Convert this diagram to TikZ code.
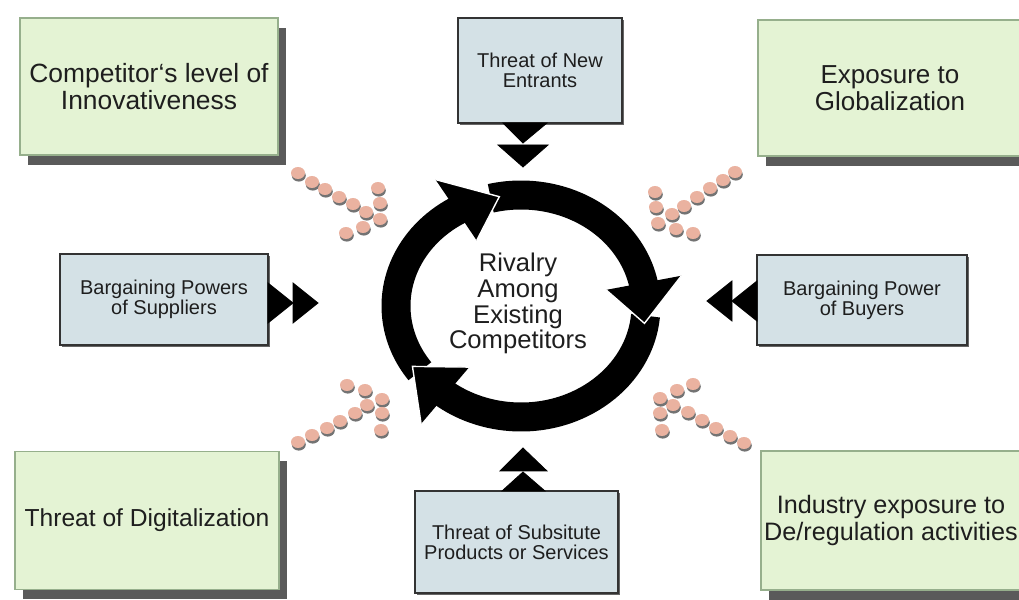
\documentclass[tikz,border=0pt]{standalone}
\usepackage{fontspec}
\setmainfont{Liberation Sans}
\usetikzlibrary{shadows,calc}
\definecolor{greenfill}{RGB}{228,243,212}
\definecolor{greenline}{RGB}{150,175,140}
\definecolor{bluefill}{RGB}{212,225,230}
\definecolor{dotpink}{RGB}{234,178,160}
\definecolor{textgray}{RGB}{30,30,30}
\definecolor{shadowgray}{RGB}{90,90,90}
\tikzset{
  greenbox/.style={draw=greenline, fill=greenfill, line width=0.8pt, align=center, inner sep=0pt,
    text=textgray, font=\fontsize{12.5}{13.5}\selectfont,
    drop shadow={shadow xshift=4pt, shadow yshift=-5pt, fill=shadowgray, opacity=1}},
  bluebox/.style={draw=black!80, fill=bluefill, line width=1pt, align=center, inner sep=0pt,
    text=textgray, font=\fontsize{10}{10}\selectfont,
    drop shadow={shadow xshift=0.8pt, shadow yshift=-0.8pt, fill=black!60, opacity=1}},
  pinkdot/.style={fill=dotpink, drop shadow={shadow xshift=0.4pt, shadow yshift=-1.3pt, fill=black!55, opacity=1}},
  ringseg/.style={black, line width=14.5pt},
  headedge/.style={white, line width=0.7pt},
  tri/.style={fill=black}
}
\begin{document}
\begin{tikzpicture}[x=0.5pt, y=0.5pt]
  \useasboundingbox (0,0) rectangle (1019,600);
    \node[greenbox, minimum width=129pt, minimum height=68.5pt, font=\fontsize{13.2}{13.5}\selectfont] (comp) at (149,513.5) {Competitor‘s level of\\Innovativeness};
    \node[greenbox, minimum width=132pt, minimum height=68pt, font=\fontsize{13}{13.5}\selectfont] (glob) at (890,512) {Exposure to\\Globalization};
    \node[greenbox, minimum width=132pt, minimum height=69pt, font=\fontsize{12.3}{13.5}\selectfont] (digi) at (147,79.5) {Threat of Digitalization};
    \node[greenbox, minimum width=130pt, minimum height=69.5pt, font=\fontsize{12.6}{13.5}\selectfont] (dereg) at (891,79.5) {Industry exposure to\\De/regulation activities};
    \node[bluebox, minimum width=82pt, minimum height=52.5pt] (entr) at (540,529.5) {Threat of New\\Entrants};
    \node[bluebox, minimum width=104pt, minimum height=45.5pt] (supp) at (164,300.5) {Bargaining Powers\\of Suppliers};
    \node[bluebox, minimum width=105pt, minimum height=45pt] (buy) at (862,300) {Bargaining Power\\of Buyers};
    \node[bluebox, minimum width=101.5pt, minimum height=51pt] (subs) at (516.5,58) {Threat of Subsitute\\Products or Services};
    \filldraw[tri] (503,477) -- (547,477) -- (523,457) -- cycle;
    \filldraw[tri] (498,455) -- (548,455) -- (523,433) -- cycle;
    \filldraw[tri] (502,109) -- (545,109) -- (523,128) -- cycle;
    \filldraw[tri] (500,129) -- (547,129) -- (523,152) -- cycle;
    \filldraw[tri] (268,317) -- (268,277) -- (293,297) -- cycle;
    \filldraw[tri] (293,317) -- (293,277) -- (318,297) -- cycle;
    \filldraw[tri] (757,319) -- (757,279) -- (732,299) -- cycle;
    \filldraw[tri] (732,319) -- (732,279) -- (707,299) -- cycle;
  \begin{scope}[shift={(521,294)}]
    \draw[ringseg] (216:125 and 111) arc[start angle=216, end angle=119, x radius=125, y radius=111];
    \draw[ringseg] (104:125 and 111) arc[start angle=104, end angle=10, x radius=125, y radius=111];
    \draw[ringseg] (-5:125 and 111) arc[start angle=-5, end angle=-129, x radius=125, y radius=111];
    \fill (121:86 and 76.5) -- (121:166 and 147.5) -- (100:125 and 111) -- cycle;
    \draw[headedge] (121:86 and 76.5) -- (100:125 and 111) -- (121:166 and 147.5);
    \fill (12:87 and 77.5) -- (12:164 and 145.5) -- (-9:125 and 111) -- cycle;
    \draw[headedge] (12:87 and 77.5) -- (-9:125 and 111) -- (12:164 and 145.5);
    \fill (233:86 and 76.5) -- (233:166 and 147.5) -- (212:128 and 114) -- cycle;
    \draw[headedge] (233:86 and 76.5) -- (212:128 and 114) -- (233:166 and 147.5);
  \end{scope}
    \node[align=center, text=textgray, font=\fontsize{12.8}{12.9}\selectfont] (rival) at (518,296.5) {Rivalry\\Among\\Existing\\Competitors};
    \fill[pinkdot] (298,427) ellipse [x radius=7, y radius=6];
    \fill[pinkdot] (312,418) ellipse [x radius=7, y radius=6];
    \fill[pinkdot] (325,411) ellipse [x radius=7, y radius=6];
    \fill[pinkdot] (339,403) ellipse [x radius=7, y radius=6];
    \fill[pinkdot] (353,396) ellipse [x radius=7, y radius=6];
    \fill[pinkdot] (366,388) ellipse [x radius=7, y radius=6];
    \fill[pinkdot] (380,381) ellipse [x radius=7, y radius=6];
    \fill[pinkdot] (380,397) ellipse [x radius=7, y radius=6];
    \fill[pinkdot] (378,412) ellipse [x radius=7, y radius=6];
    \fill[pinkdot] (363,373) ellipse [x radius=7, y radius=6];
    \fill[pinkdot] (346,367) ellipse [x radius=7, y radius=6];
    \fill[pinkdot] (735,428) ellipse [x radius=7, y radius=6];
    \fill[pinkdot] (723,420) ellipse [x radius=7, y radius=6];
    \fill[pinkdot] (710,412) ellipse [x radius=7, y radius=6];
    \fill[pinkdot] (697,403) ellipse [x radius=7, y radius=6];
    \fill[pinkdot] (684,394) ellipse [x radius=7, y radius=6];
    \fill[pinkdot] (672,386) ellipse [x radius=7, y radius=6];
    \fill[pinkdot] (658,377) ellipse [x radius=7, y radius=6];
    \fill[pinkdot] (656,393) ellipse [x radius=7, y radius=6];
    \fill[pinkdot] (655,408) ellipse [x radius=7, y radius=6];
    \fill[pinkdot] (676,371) ellipse [x radius=7, y radius=6];
    \fill[pinkdot] (693,367) ellipse [x radius=7, y radius=6];
    \fill[pinkdot] (744,157) ellipse [x radius=7, y radius=6];
    \fill[pinkdot] (730,164) ellipse [x radius=7, y radius=6];
    \fill[pinkdot] (716,172) ellipse [x radius=7, y radius=6];
    \fill[pinkdot] (702,180) ellipse [x radius=7, y radius=6];
    \fill[pinkdot] (688,188) ellipse [x radius=7, y radius=6];
    \fill[pinkdot] (673,195) ellipse [x radius=7, y radius=6];
    \fill[pinkdot] (660,202) ellipse [x radius=7, y radius=6];
    \fill[pinkdot] (677,210) ellipse [x radius=7, y radius=6];
    \fill[pinkdot] (693,216) ellipse [x radius=7, y radius=6];
    \fill[pinkdot] (660,187) ellipse [x radius=7, y radius=6];
    \fill[pinkdot] (662,170) ellipse [x radius=7, y radius=6];
    \fill[pinkdot] (298,158) ellipse [x radius=7, y radius=6];
    \fill[pinkdot] (312,165) ellipse [x radius=7, y radius=6];
    \fill[pinkdot] (327,172) ellipse [x radius=7, y radius=6];
    \fill[pinkdot] (340,179) ellipse [x radius=7, y radius=6];
    \fill[pinkdot] (355,187) ellipse [x radius=7, y radius=6];
    \fill[pinkdot] (367,195) ellipse [x radius=7, y radius=6];
    \fill[pinkdot] (382,201) ellipse [x radius=7, y radius=6];
    \fill[pinkdot] (365,210) ellipse [x radius=7, y radius=6];
    \fill[pinkdot] (347,215) ellipse [x radius=7, y radius=6];
    \fill[pinkdot] (382,187) ellipse [x radius=7, y radius=6];
    \fill[pinkdot] (381,170) ellipse [x radius=7, y radius=6];
\end{tikzpicture}
\end{document}
